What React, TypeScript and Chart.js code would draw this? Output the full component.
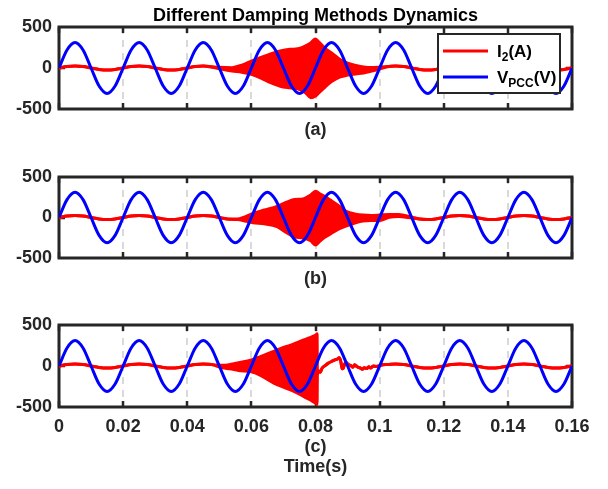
import React, { useEffect, useRef } from 'react';
import { Chart, registerables } from 'chart.js';

Chart.register(...registerables);

const FONT = "'Liberation Sans', Arial, Helvetica, sans-serif";
const INK = '#262626';
const TEXT_SIZE = 18;

const titleText = 'Different Damping Methods Dynamics';
const panelNames = ['(a)', '(b)', '(c)'];
const xAxisName = 'Time(s)';

// steady-state sampling instants (ms)
const baseTimeMs = [
  0, 2.5, 5, 7.5, 10, 12.5, 15, 17.5, 20, 22.5, 25, 27.5, 30, 32.5, 35, 37.5,
  40, 42.5, 45, 47.5, 50, 52.5, 55, 57.5, 60, 62.5, 65, 67.5, 70, 72.5, 75, 77.5,
  80, 82.5, 85, 87.5, 90, 92.5, 95, 97.5, 100, 102.5, 105, 107.5, 110, 112.5, 115, 117.5,
  120, 122.5, 125, 127.5, 130, 132.5, 135, 137.5, 140, 142.5, 145, 147.5, 150, 152.5, 155, 157.5,
  160,
];

// PCC voltage (V)
const vpccVolts = [
  0, 220, 311, 220, 0, -220, -311, -220,
  0, 220, 311, 220, 0, -220, -311, -220,
  0, 220, 311, 220, 0, -220, -311, -220,
  0, 220, 311, 220, 0, -220, -311, -220,
  0, 220, 311, 220, 0, -220, -311, -220,
  0, 220, 311, 220, 0, -220, -311, -220,
  0, 220, 311, 220, 0, -220, -311, -220,
  0, 220, 311, 220, 0, -220, -311, -220,
  0,
];

// grid current fundamental ripple (A)
const i2Ripple = [
  0, 18, 25, 18, 0, -18, -25, -18,
  0, 18, 25, 18, 0, -18, -25, -18,
  0, 18, 25, 18, 0, -18, -25, -18,
  0, 18, 25, 18, 0, -18, -25, -18,
  0, 18, 25, 18, 0, -18, -25, -18,
  0, 18, 25, 18, 0, -18, -25, -18,
  0, 18, 25, 18, 0, -18, -25, -18,
  0, 18, 25, 18, 0, -18, -25, -18,
  0,
];

// resonance burst envelope, case (a)
const burstTimeA = [45, 50, 54, 57, 60, 63, 66, 69, 72, 74.5, 77, 78.5, 79.9, 81, 83, 85, 87.5, 90, 92.5, 95, 97.5, 100, 102.5];
const burstUpperA = [25, 8, 4, 35, 85, 128, 172, 208, 228, 235, 272, 305, 355, 318, 238, 183, 108, 58, 32, 12, 5, 10, 18];
const burstLowerA = [25, -10, -38, -52, -78, -122, -178, -222, -242, -255, -305, -362, -345, -305, -232, -165, -112, -86, -72, -60, -38, -12, 16];

// resonance burst envelope, case (b)
const burstTimeB = [53, 55.5, 58, 60.5, 64, 68, 71, 73.5, 76, 78.5, 80, 81.5, 83, 84.5, 87, 89.7, 92.5, 94.8, 97.5, 100, 103, 106, 109, 111];
const burstUpperB = [-18, -20, 8, 52, 92, 138, 188, 222, 228, 278, 325, 290, 258, 218, 152, 72, 42, 30, 25, 30, 38, 36, 16, -4];
const burstLowerB = [-22, -26, -42, -64, -78, -112, -188, -242, -252, -288, -340, -288, -242, -206, -146, -104, -66, -44, -38, -36, 2, 12, 0, -11];

// resonance burst envelope, case (c), cut off by the damping action
const burstTimeC = [48, 51, 53.3, 56, 60, 63, 67, 70, 72, 75, 77.3, 79, 80.2, 80.5];
const burstUpperC = [16, 8, 18, 40, 75, 118, 178, 228, 250, 298, 332, 358, 382, 392];
const burstLowerC = [14, -22, -34, -55, -72, -118, -208, -258, -288, -342, -392, -428, -458, -470];

// post-damping transient, case (c)
const transientTimeC = [80.6, 81, 81.5, 82, 83, 84, 85, 86, 86.8, 87.4, 87.9, 88.3, 88.7, 89.1, 89.6, 90.2, 91, 91.7, 92.2, 93, 94, 94.6, 95.2, 96, 96.6, 97.2, 98, 99, 100, 101];
const transientC = [-100, -60, -75, -30, 5, 35, 55, 75, 85, 100, 55, -35, -25, 25, 40, 20, 5, -15, 15, -10, -25, -40, -20, -32, -10, -25, 0, -5, 5, 15];

const xTickValues = [0, 0.02, 0.04, 0.06, 0.08, 0.1, 0.12, 0.14, 0.16];
const xTickLabels = ['0', '0.02', '0.04', '0.06', '0.08', '0.1', '0.12', '0.14', '0.16'];
const yTickValues = [-500, 0, 500];
const yTickLabels = ['-500', '0', '500'];

const legendMain = ['I', 'V'];
const legendSub = ['2', 'PCC'];
const legendUnit = ['(A)', '(V)'];
const legendDataset = [1, 0];

type Pt = { x: number; y: number };

interface Burst {
  t: number[];
  up: number[];
  lo: number[];
  tt?: number[];
  tv?: number[];
}

const bursts: Burst[] = [
  { t: burstTimeA, up: burstUpperA, lo: burstLowerA },
  { t: burstTimeB, up: burstUpperB, lo: burstLowerB },
  { t: burstTimeC, up: burstUpperC, lo: burstLowerC, tt: transientTimeC, tv: transientC },
];

function buildEnvelope(b: Burst): { upper: Pt[]; lower: Pt[] } {
  const extra = b.tt || [];
  const start = b.t[0];
  const end = Math.max(b.t[b.t.length - 1], extra.length ? extra[extra.length - 1] : -Infinity);
  const upper: Pt[] = [];
  const lower: Pt[] = [];
  baseTimeMs.forEach((t, i) => {
    if (t < start || t > end) {
      upper.push({ x: t / 1000, y: i2Ripple[i] });
      lower.push({ x: t / 1000, y: i2Ripple[i] });
    }
  });
  b.t.forEach((t, i) => {
    upper.push({ x: t / 1000, y: b.up[i] });
    lower.push({ x: t / 1000, y: b.lo[i] });
  });
  extra.forEach((t, i) => {
    upper.push({ x: t / 1000, y: b.tv![i] });
    lower.push({ x: t / 1000, y: b.tv![i] });
  });
  upper.sort((p, q) => p.x - q.x);
  lower.sort((p, q) => p.x - q.x);
  return { upper, lower };
}

const vpccPoints: Pt[] = baseTimeMs.map((t, i) => ({ x: t / 1000, y: vpccVolts[i] }));

function labelFor(values: number[], labels: string[], v: number): string {
  const i = values.findIndex((w) => Math.abs(w - v) < 1e-9);
  return i >= 0 ? labels[i] : '';
}

// axes box, inward ticks and dashed vertical grid, drawn beneath the data
const axesBoxPlugin = {
  id: 'axesBox',
  beforeDatasetsDraw(chart: any) {
    const { ctx, chartArea, scales } = chart;
    const { left, right, top, bottom } = chartArea;
    const xs = scales.x;
    const ys = scales.y;
    ctx.save();
    ctx.strokeStyle = '#d9d9d9';
    ctx.lineWidth = 2;
    ctx.setLineDash([7, 6]);
    xTickValues.slice(1, -1).forEach((v) => {
      const px = Math.round(xs.getPixelForValue(v));
      ctx.beginPath();
      ctx.moveTo(px, top);
      ctx.lineTo(px, bottom);
      ctx.stroke();
    });
    ctx.setLineDash([]);
    ctx.strokeStyle = INK;
    ctx.lineWidth = 2.5;
    xTickValues.forEach((v) => {
      const px = Math.round(xs.getPixelForValue(v));
      ctx.beginPath();
      ctx.moveTo(px, top);
      ctx.lineTo(px, top + 6);
      ctx.moveTo(px, bottom);
      ctx.lineTo(px, bottom - 6);
      ctx.stroke();
    });
    const py = Math.round(ys.getPixelForValue(0));
    ctx.beginPath();
    ctx.moveTo(left, py);
    ctx.lineTo(left + 6, py);
    ctx.moveTo(right, py);
    ctx.lineTo(right - 6, py);
    ctx.stroke();
    ctx.lineWidth = 3;
    ctx.strokeRect(left, top, right - left, bottom - top);
    ctx.restore();
  },
};

// boxed legend in the upper right of the plot
const boxLegendPlugin = {
  id: 'boxLegend',
  afterDatasetsDraw(chart: any, _args: any, opts: any) {
    if (!opts || !opts.display) return;
    const { ctx, chartArea } = chart;
    const w = 122;
    const h = 59;
    const x0 = chartArea.right - 12 - w;
    const y0 = chartArea.top + 7;
    ctx.save();
    ctx.fillStyle = '#ffffff';
    ctx.fillRect(x0, y0, w, h);
    ctx.lineWidth = 2;
    ctx.strokeStyle = INK;
    ctx.strokeRect(x0, y0, w, h);
    const rows = [17, 43];
    legendMain.forEach((main, i) => {
      const ds = chart.data.datasets[legendDataset[i]];
      const ry = y0 + rows[i];
      ctx.strokeStyle = ds.borderColor;
      ctx.lineWidth = 3;
      ctx.beginPath();
      ctx.moveTo(x0 + 5, ry);
      ctx.lineTo(x0 + 50, ry);
      ctx.stroke();
      ctx.fillStyle = '#000000';
      ctx.textAlign = 'left';
      ctx.textBaseline = 'alphabetic';
      let tx = x0 + 59;
      const base = ry + 6;
      ctx.font = `bold 17px ${FONT}`;
      ctx.fillText(main, tx, base);
      tx += ctx.measureText(main).width;
      ctx.font = `bold 12px ${FONT}`;
      ctx.fillText(legendSub[i], tx, base + 4);
      tx += ctx.measureText(legendSub[i]).width;
      ctx.font = `bold 17px ${FONT}`;
      ctx.fillText(legendUnit[i], tx, base);
    });
    ctx.restore();
  },
};

interface PanelLayout {
  top: number;
  height: number;
  padTop: number;
  xAxisHeight: number;
  titlePadBottom: number;
}

const layouts: PanelLayout[] = [
  { top: 0, height: 145, padTop: 0, xAxisHeight: 36, titlePadBottom: 6 },
  { top: 150, height: 145, padTop: 27, xAxisHeight: 37, titlePadBottom: 7 },
  { top: 300, height: 189, padTop: 25, xAxisHeight: 82, titlePadBottom: 12 },
];

function makeConfig(index: number): any {
  const isFirst = index === 0;
  const isLast = index === 2;
  const lay = layouts[index];
  const env = buildEnvelope(bursts[index]);
  const tickFont = { family: FONT, size: TEXT_SIZE, weight: 'bold' as const, lineHeight: 1 };
  return {
    type: 'line',
    data: {
      datasets: [
        {
          label: 'VPCC(V)',
          data: vpccPoints,
          borderColor: '#0000ff',
          borderWidth: 3,
          pointRadius: 0,
          fill: false,
          cubicInterpolationMode: 'monotone',
          order: 0,
        },
        {
          label: 'I2(A)',
          data: env.upper,
          borderColor: '#ff0000',
          borderWidth: 3,
          pointRadius: 0,
          fill: false,
          cubicInterpolationMode: 'monotone',
          order: 1,
        },
        {
          label: 'I2(A) lower',
          data: env.lower,
          borderColor: '#ff0000',
          backgroundColor: '#ff0000',
          borderWidth: 3,
          pointRadius: 0,
          fill: '-1',
          cubicInterpolationMode: 'monotone',
          order: 1,
        },
      ],
    },
    options: {
      animation: false,
      responsive: false,
      maintainAspectRatio: false,
      events: [],
      layout: { padding: { top: lay.padTop, right: 36, left: 0, bottom: 0 } },
      plugins: {
        legend: { display: false },
        tooltip: { enabled: false },
        title: {
          display: isFirst,
          text: titleText,
          fullSize: false,
          color: '#000000',
          font: { family: FONT, size: TEXT_SIZE, weight: 'bold', lineHeight: 1 },
          padding: { top: 7.5, bottom: 1.5 },
        },
        boxLegend: { display: isFirst },
      },
      scales: {
        x: {
          type: 'linear',
          min: 0,
          max: 0.16,
          grid: { display: false, drawTicks: false },
          border: { display: false },
          afterBuildTicks: (s: any) => {
            s.ticks = xTickValues.map((value) => ({ value }));
          },
          afterFit: (s: any) => {
            s.height = lay.xAxisHeight;
          },
          ticks: {
            display: isLast,
            autoSkip: false,
            maxRotation: 0,
            padding: 11,
            color: INK,
            font: tickFont,
            callback: (v: number) => labelFor(xTickValues, xTickLabels, v),
          },
          title: {
            display: true,
            text: isLast ? [panelNames[index], xAxisName] : panelNames[index],
            color: INK,
            font: { family: FONT, size: TEXT_SIZE, weight: 'bold', lineHeight: isLast ? 20 / TEXT_SIZE : 1 },
            padding: { top: 0, bottom: lay.titlePadBottom },
          },
        },
        y: {
          type: 'linear',
          min: -500,
          max: 500,
          grid: { display: false, drawTicks: false },
          border: { display: false },
          afterBuildTicks: (s: any) => {
            s.ticks = yTickValues.map((value) => ({ value }));
          },
          afterFit: (s: any) => {
            s.width = 59;
          },
          ticks: {
            padding: 7,
            color: INK,
            font: tickFont,
            callback: (v: number) => labelFor(yTickValues, yTickLabels, v),
          },
        },
      },
    },
    plugins: [axesBoxPlugin, boxLegendPlugin],
  };
}

export default function App() {
  const refA = useRef<HTMLCanvasElement>(null);
  const refB = useRef<HTMLCanvasElement>(null);
  const refC = useRef<HTMLCanvasElement>(null);

  useEffect(() => {
    const canvases = [refA.current, refB.current, refC.current];
    const charts = canvases.map((c, i) => (c ? new Chart(c, makeConfig(i)) : null));
    return () => {
      charts.forEach((ch) => ch && ch.destroy());
    };
  }, []);

  const refs = [refA, refB, refC];
  return (
    <div style={{ position: 'absolute', left: 0, top: 0, width: 608, height: 489, background: '#ffffff' }}>
      {layouts.map((lay, i) => (
        <canvas
          key={i}
          ref={refs[i]}
          width={608}
          height={lay.height}
          style={{ position: 'absolute', left: 0, top: lay.top, width: 608, height: lay.height }}
        />
      ))}
    </div>
  );
}
